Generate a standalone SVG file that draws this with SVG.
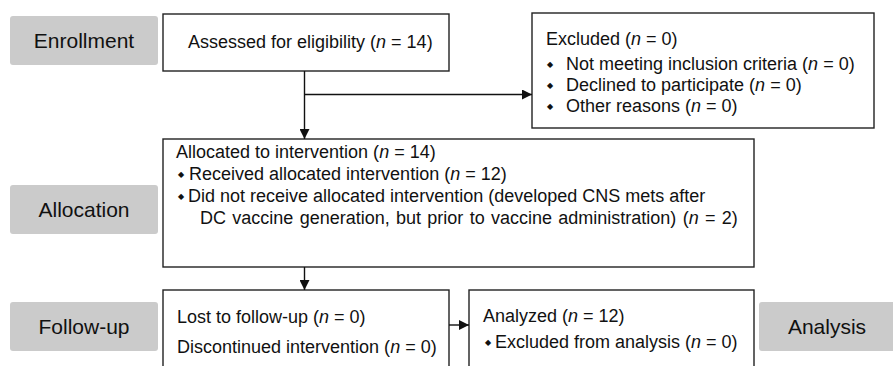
<svg xmlns="http://www.w3.org/2000/svg" width="893" height="366" viewBox="0 0 893 366">
<defs>
<marker id="ah" viewBox="0 0 10 10" refX="10" refY="5" markerWidth="10" markerHeight="10" markerUnits="userSpaceOnUse" orient="auto">
<path d="M0,0 L10,5 L0,10 z" fill="#111"/>
</marker>
</defs>
<style>
.stage{fill:#cbcbcb;stroke:none}
.stxt{font-family:"Liberation Sans",Arial,sans-serif;font-size:21px;fill:#111;text-anchor:middle}
.box{fill:#fff;stroke:#222;stroke-width:1.4}
.t{font-family:"Liberation Sans",Arial,sans-serif;font-size:18px;fill:#111}
.i{font-style:italic}
.b{font-family:"DejaVu Sans",sans-serif;font-size:8px;fill:#111;text-anchor:middle}
.conn{fill:none;stroke:#111;stroke-width:1.4}
</style>
<rect width="893" height="366" fill="#fff"/>
<g id="enrollment">
<rect class="stage" x="10" y="16" width="148" height="49" rx="3"/>
<text class="stxt" x="84" y="48">Enrollment</text>
</g>
<g id="allocation">
<rect class="stage" x="10" y="185" width="148" height="49" rx="3"/>
<text class="stxt" x="84" y="217">Allocation</text>
</g>
<g id="followup">
<rect class="stage" x="10" y="302" width="148" height="49" rx="3"/>
<text class="stxt" x="84" y="334">Follow-up</text>
</g>
<g id="analysis">
<rect class="stage" x="759" y="302" width="140" height="49" rx="3"/>
<text class="stxt" x="827" y="334">Analysis</text>
</g>
<g id="assessed">
<rect class="box" x="163" y="14" width="286" height="57"/>
<text class="t" x="188" y="48">Assessed for eligibility (<tspan class="i">n</tspan> = 14)</text>
</g>
<g id="excluded">
<rect class="box" x="532" y="13" width="342" height="115"/>
<text class="t" x="546" y="45">Excluded (<tspan class="i">n</tspan> = 0)</text>
<text class="b" x="550" y="67">◆</text>
<text class="t" x="566" y="70">Not meeting inclusion criteria (<tspan class="i">n</tspan> = 0)</text>
<text class="b" x="550" y="88">◆</text>
<text class="t" x="566" y="91">Declined to participate (<tspan class="i">n</tspan> = 0)</text>
<text class="b" x="550" y="109">◆</text>
<text class="t" x="566" y="112">Other reasons (<tspan class="i">n</tspan> = 0)</text>
</g>
<g id="allocated">
<rect class="box" x="163" y="139" width="591" height="128"/>
<text class="t" x="176" y="158">Allocated to intervention (<tspan class="i">n</tspan> = 14)</text>
<text class="b" x="181" y="177">◆</text>
<text class="t" x="189" y="180">Received allocated intervention (<tspan class="i">n</tspan> = 12)</text>
<text class="b" x="181" y="199">◆</text>
<text class="t" x="188" y="202">Did not receive allocated intervention (developed CNS mets after</text>
<text class="t" x="200" y="224" style="word-spacing:1.3px">DC vaccine generation, but prior to vaccine administration) (<tspan class="i">n</tspan> = 2)</text>
</g>
<g id="lost">
<rect class="box" x="163" y="290" width="286" height="90"/>
<text class="t" x="177" y="323">Lost to follow-up (<tspan class="i">n</tspan> = 0)</text>
<text class="t" x="177" y="353">Discontinued intervention (<tspan class="i">n</tspan> = 0)</text>
</g>
<g id="analyzed">
<rect class="box" x="469" y="290" width="285" height="90"/>
<text class="t" x="483" y="322">Analyzed (<tspan class="i">n</tspan> = 12)</text>
<text class="b" x="488" y="345">◆</text>
<text class="t" x="495" y="348">Excluded from analysis (<tspan class="i">n</tspan> = 0)</text>
</g>
<g id="connectors">
<path class="conn" d="M304.5,71 V139" marker-end="url(#ah)"/>
<path class="conn" d="M304.5,94.5 H532" marker-end="url(#ah)"/>
<path class="conn" d="M304.5,267 V290" marker-end="url(#ah)"/>
<path class="conn" d="M449,325 H469" marker-end="url(#ah)"/>
</g>
</svg>
